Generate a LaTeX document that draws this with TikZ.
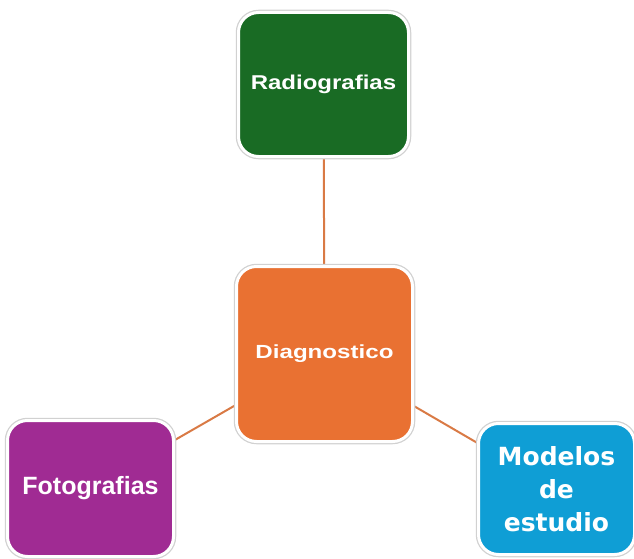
\documentclass[tikz,border=0pt]{standalone}
\usepackage{fontspec}
\setmainfont{Liberation Sans}
\newfontfamily\dejavu{DejaVu Sans}
\usetikzlibrary{backgrounds}
\definecolor{cgreen}{HTML}{196B24}
\definecolor{corange}{HTML}{E97132}
\definecolor{cpurple}{HTML}{A02B93}
\definecolor{cblue}{HTML}{0F9ED5}
\definecolor{cline}{HTML}{D97A45}
\tikzset{
  box/.style={rectangle, rounded corners=20pt, draw=white, line width=3pt,
    preaction={draw=black!18, line width=5.5pt},
    text=white, align=center, inner sep=0pt, font=\bfseries},
  link/.style={draw=cline, line width=2pt}
}
\begin{document}
\begin{tikzpicture}[x=1pt,y=-1pt]
\useasboundingbox (0,0) rectangle (634,559);
\node[box, fill=cgreen, minimum width=170pt, minimum height=144pt] (r) at (323.5,84.5)
  {\fontsize{20}{24}\selectfont\scalebox{1.2}[1]{Radiografias}};
\node[box, fill=corange, minimum width=176pt, minimum height=175pt] (d) at (324.5,354)
  {\fontsize{19}{23}\selectfont\scalebox{1.27}[1]{Diagnostico}};
\node[box, fill=cpurple, minimum width=166pt, minimum height=136pt] (f) at (90.5,488.5)
  {\fontsize{25}{30}\selectfont Fotografias};
\node[box, fill=cblue, minimum width=156pt, minimum height=131pt,
  font={\dejavu\bfseries\fontsize{25}{33}\selectfont}] (m) at (556.5,489)
  {Modelos\\de\\estudio};
\begin{scope}[on background layer]
\draw[link] (d.center) -- (r.center);
\draw[link] (d.center) -- (f.center);
\draw[link] (d.center) -- (m.center);
\end{scope}
\end{tikzpicture}
\end{document}
